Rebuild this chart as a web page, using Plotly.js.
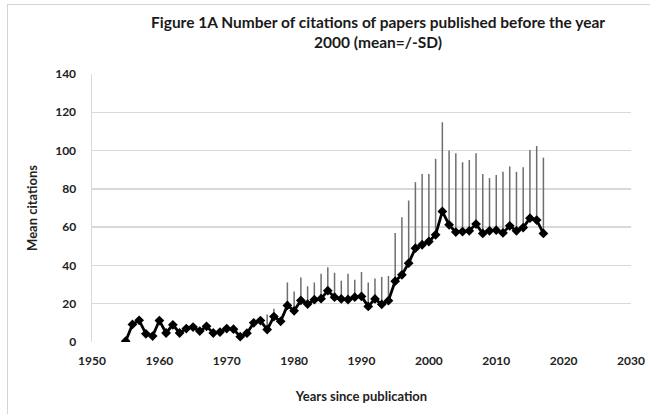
<!DOCTYPE html>
<html>
<head>
<meta charset="utf-8">
<script src="https://cdn.plot.ly/plotly-3.0.1.min.js"></script>
<style>
  html, body { margin: 0; padding: 0; background: #fff; }
  #wrap { position: relative; width: 650px; height: 414px; overflow: hidden; }
  #frame { position: absolute; left: 7px; top: 4px; width: 660px; height: 430px;
           border: 1px solid #d4d4d4; box-sizing: border-box; }
  #chart { position: absolute; left: 0; top: 0; width: 650px; height: 414px; }
</style>
</head>
<body>
<div id="wrap">
  <div id="frame"></div>
  <div id="chart"></div>
</div>
<script>
// Publication year of each group of papers
const years = [
  1955, 1956, 1957, 1958, 1959, 1960, 1961, 1962, 1963, 1964,
  1965, 1966, 1967, 1968, 1969, 1970, 1971, 1972, 1973, 1974,
  1975, 1976, 1977, 1978, 1979, 1980, 1981, 1982, 1983, 1984,
  1985, 1986, 1987, 1988, 1989, 1990, 1991, 1992, 1993, 1994,
  1995, 1996, 1997, 1998, 1999, 2000, 2001, 2002, 2003, 2004,
  2005, 2006, 2007, 2008, 2009, 2010, 2011, 2012, 2013, 2014,
  2015, 2016, 2017
];

// Mean number of citations per year
const meanCitations = [
  0.4, 9.2, 11.3, 4.3, 3.1, 11.2, 4.7, 9.0, 4.7, 7.0,
  7.8, 5.7, 8.2, 4.7, 5.2, 7.0, 6.7, 2.8, 4.6, 10.0,
  11.2, 6.5, 13.3, 10.8, 19.1, 16.3, 21.7, 19.8, 22.1, 22.6,
  26.8, 23.4, 22.5, 22.2, 23.4, 23.8, 18.6, 22.5, 19.7, 21.6,
  31.8, 35.1, 41.2, 49.0, 50.8, 52.5, 56.0, 68.2, 61.2, 57.4,
  57.7, 58.1, 61.6, 56.7, 58.1, 58.4, 57.0, 60.7, 58.1, 59.8,
  64.7, 63.7, 56.7
];

// Standard deviation (drawn above the mean only)
const sdCitations = [
  0, 0, 0, 0, 0, 0, 0, 0, 0, 0,
  0, 0, 0, 0, 0, 0, 0, 0, 0, 0,
  0, 7.9, 4.1, 0, 12.0, 10.1, 12.0, 9.3, 9.0, 13.1,
  12.3, 12.8, 9.5, 13.5, 9.1, 12.8, 12.5, 10.7, 14.3, 12.9,
  25.1, 30.1, 32.7, 34.5, 36.9, 35.2, 39.7, 46.6, 38.8, 41.2,
  36.2, 37.0, 37.0, 31.0, 27.5, 28.9, 31.9, 31.0, 30.8, 31.5,
  35.6, 38.7, 39.6
];

const noLower = years.map(() => 0);

const font = 'Lato, "Open Sans", sans-serif';
const titleText = 'Figure 1A Number of citations of papers published before the year<br>2000 (mean=/-SD)';

const trace = {
  x: years,
  y: meanCitations,
  type: 'scatter',
  mode: 'lines+markers',
  line: { color: '#000', width: 2.8 },
  marker: { symbol: 'diamond', size: 7.5, color: '#000' },
  error_y: {
    type: 'data',
    symmetric: false,
    array: sdCitations,
    arrayminus: noLower,
    color: '#6e6e6e',
    thickness: 1.5,
    width: 0
  },
  hoverinfo: 'x+y'
};

const layout = {
  width: 650,
  height: 414,
  margin: { l: 92, r: 19, t: 74, b: 72 },
  paper_bgcolor: 'rgba(0,0,0,0)',
  plot_bgcolor: '#fff',
  showlegend: false,
  font: { family: font, color: '#000' },
  annotations: [{
    text: '<b>' + titleText + '</b>',
    xref: 'paper', yref: 'paper',
    x: 0.53, y: 1.155,
    xanchor: 'center', yanchor: 'middle',
    showarrow: false,
    align: 'center',
    font: { family: font, size: 15.5, color: '#1a1a1a' }
  }],
  xaxis: {
    range: [1950, 2030],
    tickvals: [1950, 1960, 1970, 1980, 1990, 2000, 2010, 2020, 2030],
    ticktext: ['<b>1950</b>', '<b>1960</b>', '<b>1970</b>', '<b>1980</b>', '<b>1990</b>',
               '<b>2000</b>', '<b>2010</b>', '<b>2020</b>', '<b>2030</b>'],
    tickfont: { family: font, size: 12, color: '#222' },
    showgrid: false,
    zeroline: false,
    showline: false,
    ticks: '',
    ticklabelstandoff: 10,
    title: {
      text: '<b>Years since publication</b>',
      font: { family: font, size: 13, color: '#222' },
      standoff: 24
    },
    fixedrange: true
  },
  yaxis: {
    range: [0, 140],
    tickvals: [0, 20, 40, 60, 80, 100, 120, 140],
    ticktext: ['<b>0</b>', '<b>20</b>', '<b>40</b>', '<b>60</b>', '<b>80</b>',
               '<b>100</b>', '<b>120</b>', '<b>140</b>'],
    tickfont: { family: font, size: 12, color: '#222' },
    showgrid: true,
    gridcolor: '#d9d9d9',
    gridwidth: 1.5,
    zeroline: false,
    showline: true,
    linecolor: '#d9d9d9',
    linewidth: 1.5,
    ticks: '',
    ticklabelstandoff: 12,
    title: {
      text: '<b>Mean citations</b>',
      font: { family: font, size: 13, color: '#222' },
      standoff: 14
    },
    fixedrange: true
  }
};

Plotly.newPlot('chart', [trace], layout, { displayModeBar: false, staticPlot: true });
</script>
</body>
</html>
